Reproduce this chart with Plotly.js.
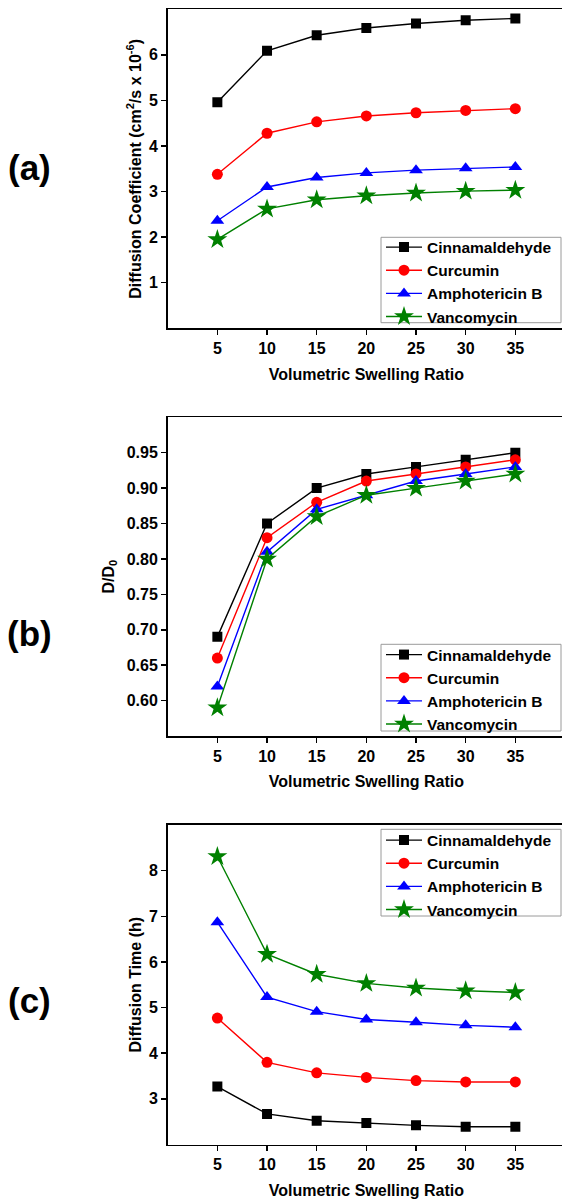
<!DOCTYPE html>
<html>
<head>
<meta charset="utf-8">
<script src="https://cdn.plot.ly/plotly-3.0.1.min.js"></script>
<style>
html, body { margin: 0; padding: 0; overflow: hidden; background: #fff; }
#chart { width: 566px; height: 1203px; }
</style>
</head>
<body>
<div id="chart"></div>
<script>
// ---- data ----
const swellingRatio = [5, 10, 15, 20, 25, 30, 35];
const drugNames = ['Cinnamaldehyde', 'Curcumin', 'Amphotericin B', 'Vancomycin'];

// (a) Diffusion coefficient (cm2/s x 10^-6)
const diffCoefCinnamaldehyde = [4.96, 6.09, 6.43, 6.59, 6.69, 6.76, 6.80];
const diffCoefCurcumin       = [3.38, 4.28, 4.53, 4.66, 4.73, 4.78, 4.82];
const diffCoefAmphotericinB  = [2.36, 3.10, 3.31, 3.41, 3.47, 3.51, 3.54];
const diffCoefVancomycin     = [1.95, 2.62, 2.82, 2.91, 2.97, 3.01, 3.03];

// (b) D/D0
const ratioCinnamaldehyde = [0.69, 0.85, 0.90, 0.92, 0.93, 0.94, 0.95];
const ratioCurcumin       = [0.66, 0.83, 0.88, 0.91, 0.92, 0.93, 0.94];
const ratioAmphotericinB  = [0.62, 0.81, 0.87, 0.89, 0.91, 0.92, 0.93];
const ratioVancomycin     = [0.59, 0.80, 0.86, 0.89, 0.90, 0.91, 0.92];

// (c) Diffusion time (h)
const timeCinnamaldehyde = [3.27, 2.67, 2.52, 2.47, 2.42, 2.39, 2.39];
const timeCurcumin       = [4.77, 3.80, 3.57, 3.47, 3.40, 3.37, 3.37];
const timeAmphotericinB  = [6.87, 5.23, 4.91, 4.74, 4.68, 4.61, 4.57];
const timeVancomycin     = [8.31, 6.17, 5.73, 5.53, 5.43, 5.37, 5.33];

const xTickVals = [5, 10, 15, 20, 25, 30, 35];
const yTickValsA = [1, 2, 3, 4, 5, 6];
const yTickValsB = [0.60, 0.65, 0.70, 0.75, 0.80, 0.85, 0.90, 0.95];
const yTickValsC = [3, 4, 5, 6, 7, 8];
const panelLabels = ['(a)', '(b)', '(c)'];

// ---- styles ----
const colors = ['#000000', '#ff0000', '#0000ff', '#008000'];
const symbols = ['square', 'circle', 'triangle-up', 'star'];
const sizes = [10, 11, 12, 15];
const W = 566, H = 1203;
const FONT = 'Liberation Sans, Arial, Helvetica, sans-serif';

function series(ys, i, xa, ya, leg) {
  return {
    x: swellingRatio, y: ys, name: drugNames[i], type: 'scatter', mode: 'lines+markers',
    xaxis: xa, yaxis: ya, legend: leg,
    line: { color: colors[i], width: 1.4 },
    marker: { symbol: symbols[i], size: sizes[i], color: colors[i], line: { width: 0 } }
  };
}

const data = [
  series(diffCoefCinnamaldehyde, 0, 'x', 'y', 'legend'),
  series(diffCoefCurcumin, 1, 'x', 'y', 'legend'),
  series(diffCoefAmphotericinB, 2, 'x', 'y', 'legend'),
  series(diffCoefVancomycin, 3, 'x', 'y', 'legend'),
  series(ratioCinnamaldehyde, 0, 'x2', 'y2', 'legend2'),
  series(ratioCurcumin, 1, 'x2', 'y2', 'legend2'),
  series(ratioAmphotericinB, 2, 'x2', 'y2', 'legend2'),
  series(ratioVancomycin, 3, 'x2', 'y2', 'legend2'),
  series(timeCinnamaldehyde, 0, 'x3', 'y3', 'legend3'),
  series(timeCurcumin, 1, 'x3', 'y3', 'legend3'),
  series(timeAmphotericinB, 2, 'x3', 'y3', 'legend3'),
  series(timeVancomycin, 3, 'x3', 'y3', 'legend3')
];

const xDom = [167.7 / W, 565 / W];
function pyDom(top, bottom) { return [1 - bottom / H, 1 - top / H]; }

function xAxis(anchor) {
  return {
    domain: xDom, anchor: anchor, range: [0, 40],
    tickvals: xTickVals, ticks: 'outside', ticklen: 5, tickwidth: 1.5, tickcolor: '#000',
    showline: true, linecolor: '#000', linewidth: 1.7, mirror: true,
    showgrid: false, zeroline: false,
    tickfont: { family: FONT, size: 16, weight: 700, color: '#000' },
    title: { text: 'Volumetric Swelling Ratio', font: { family: FONT, size: 16, weight: 700, color: '#000' }, standoff: 12 }
  };
}
function yAxis(anchor, dom, range, vals, fmt, title, standoff) {
  return {
    domain: dom, anchor: anchor, range: range,
    tickvals: vals, tickformat: fmt, ticks: 'outside', ticklen: 5, tickwidth: 1.5, tickcolor: '#000',
    showline: true, linecolor: '#000', linewidth: 1.7, mirror: true,
    showgrid: false, zeroline: false,
    tickfont: { family: FONT, size: 16, weight: 700, color: '#000' },
    title: { text: title, font: { family: FONT, size: 16, weight: 700, color: '#000' }, standoff: standoff }
  };
}
// legend entries (transparent) placed so rows line up with the drawn frame
function legendAt(topPx) {
  return {
    x: 381 / W, y: 1 - topPx / H, xanchor: 'left', yanchor: 'top',
    bgcolor: 'rgba(0,0,0,0)', borderwidth: 0,
    font: { family: FONT, size: 15.5, weight: 700, color: '#000' },
    itemwidth: 36, tracegroupgap: 0, traceorder: 'normal'
  };
}
function legendFrame(topPx, bottomPx) {
  return {
    type: 'rect', xref: 'paper', yref: 'paper', layer: 'above',
    x0: 381 / W, x1: 561 / W, y0: 1 - bottomPx / H, y1: 1 - topPx / H,
    line: { color: '#9a9a9a', width: 1 }, fillcolor: '#ffffff'
  };
}
function panelLabel(text, ypx) {
  return {
    text: text, xref: 'paper', yref: 'paper', x: 29 / W, y: 1 - ypx / H,
    xanchor: 'center', yanchor: 'middle', showarrow: false,
    font: { family: FONT, size: 35, weight: 700, color: '#000' }
  };
}

const layout = {
  width: W, height: H,
  margin: { l: 0, r: 0, t: 0, b: 0 },
  paper_bgcolor: '#fff', plot_bgcolor: '#fff',
  font: { family: FONT, size: 16, color: '#000' },
  showlegend: true,
  xaxis: xAxis('y'),
  yaxis: yAxis('x', pyDom(9.3, 328.3), [0, 7], yTickValsA, null, 'Diffusion Coefficient (cm<sup>2</sup>/s x 10<sup>-6</sup>)', 3),
  xaxis2: xAxis('y2'),
  yaxis2: yAxis('x2', pyDom(417.3, 736), [0.55, 1.0], yTickValsB, '.2f', 'D/D<sub>0</sub>', 8),
  xaxis3: xAxis('y3'),
  yaxis3: yAxis('x3', pyDom(825, 1144.5), [2, 9], yTickValsC, null, 'Diffusion Time (h)', 3),
  legend: legendAt(230.5),
  legend2: legendAt(638),
  legend3: legendAt(823.5),
  shapes: [
    legendFrame(237.3, 322.7),
    legendFrame(644.3, 731),
    legendFrame(829.3, 916)
  ],
  annotations: [
    panelLabel(panelLabels[0], 168),
    panelLabel(panelLabels[1], 633),
    panelLabel(panelLabels[2], 1000)
  ]
};

Plotly.newPlot('chart', data, layout, { displayModeBar: false, staticPlot: true });
</script>
</body>
</html>
